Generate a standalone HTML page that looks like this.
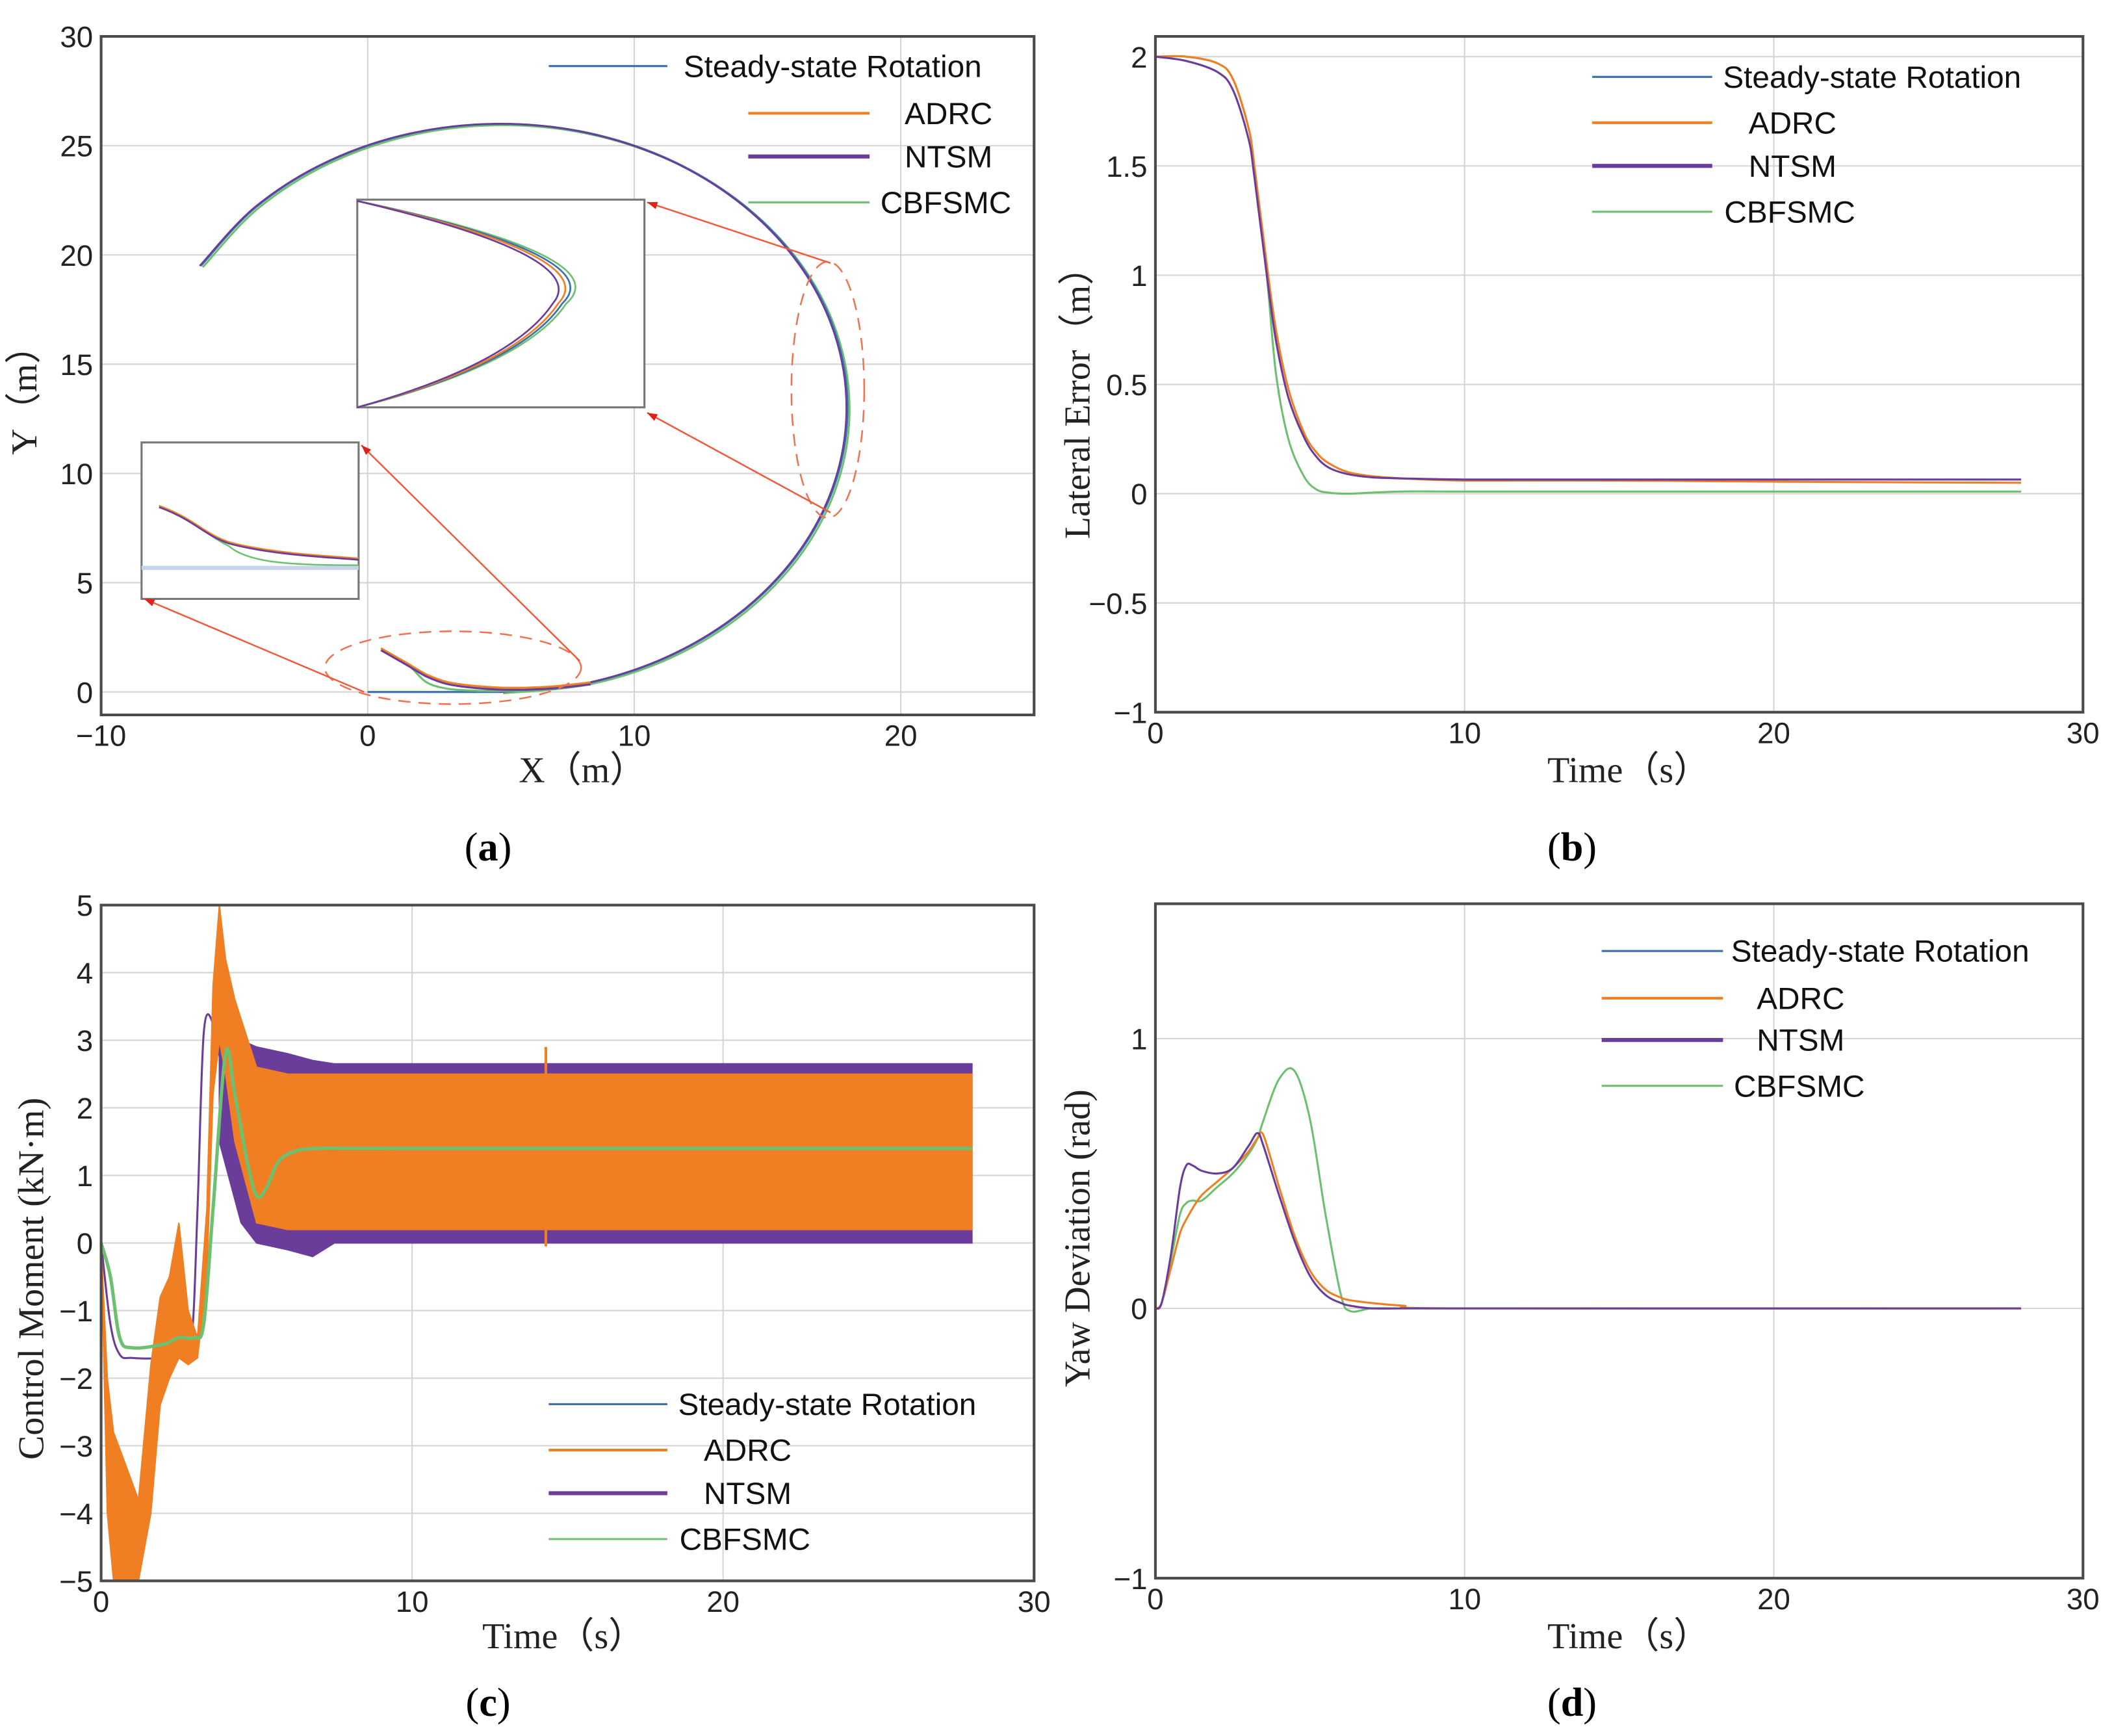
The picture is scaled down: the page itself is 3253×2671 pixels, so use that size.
<!DOCTYPE html>
<html><head><meta charset="utf-8"><style>
html,body{margin:0;padding:0;background:#fff;}
svg{display:block;}
.tk{font-family:"Liberation Sans",sans-serif;font-size:22px;fill:#222;}
.lg{font-family:"Liberation Sans",sans-serif;font-size:23px;fill:#111;}
.at{font-family:"Liberation Serif",serif;font-size:27px;fill:#222;}
.pl{font-family:"Liberation Serif",serif;font-size:30px;fill:#000;}
</style></head><body>
<svg id="fig" width="3253" height="2671" viewBox="0 0 1568 1287" preserveAspectRatio="none" xmlns="http://www.w3.org/2000/svg"></svg>
<script>
// ---- Panel (a) trajectory data (m) ----
const trajX = [-6.26,-4.19,-1.5,1.64,5,8.36,11.5,14.19,16.26,17.56,18,17.56,16.26,14.19,11.5,8.36,5];
const trajY = [19.5,22.19,24.26,25.56,26,25.56,24.26,22.19,19.5,16.36,13,9.64,6.5,3.81,1.74,0.44,0];
const steadyStartX = [0,5];
const steadyStartY = [0,0];
const ctrlStartX = [0.5,1.5,2.2,3,4,5,6,7,8.36];
const adrcStartY = [2,1.3,0.8,0.45,0.28,0.2,0.2,0.26,0.44];
const cbfStartY = [2,1.25,0.45,0.15,0.06,0.05,0.08,0.2,0.44];
const xTicksA = [-10,0,10,20];
const yTicksA = [0,5,10,15,20,25,30];
// ---- Panel (b) lateral error ----
const tB = [0,1,2,2.5,3,3.2,3.6,3.9,4.3,4.8,5.2,5.6,6.2,7,8,10,15,20,28];
const adrcB = [2,2,1.97,1.9,1.68,1.5,1.05,0.75,0.48,0.28,0.19,0.14,0.1,0.08,0.07,0.06,0.06,0.055,0.05];
const ntsmB = [2,1.98,1.93,1.85,1.63,1.45,1.0,0.7,0.44,0.26,0.17,0.12,0.09,0.075,0.07,0.065,0.065,0.065,0.065];
const cbfB = [2,2,1.97,1.9,1.68,1.5,1.0,0.55,0.25,0.08,0.02,0.005,0,0.005,0.01,0.01,0.01,0.01,0.01];
const yTicksB = [-1,-0.5,0,0.5,1,1.5,2];
const yTickLabB = ["−1","−0.5","0","0.5","1","1.5","2"];
const tTicks = [0,10,20,30];
// ---- Panel (c) control moment ----
const tNtsmC = [0,0.3,0.6,1,2,2.5,2.9,3.1,3.3,3.6,3.9];
const ntsmC = [0,-1.2,-1.65,-1.7,-1.7,-1.6,-1.45,0.5,3.1,3.25,2.5];
const tCbfC = [0,0.3,0.6,1,2,2.5,3,3.3,3.6,4,4.3,4.7,5,5.3,5.7,6.2,7,10,28];
const cbfC = [0,-0.5,-1.4,-1.55,-1.5,-1.4,-1.4,-1.2,0.5,2.8,2.2,1.2,0.7,0.8,1.2,1.35,1.4,1.4,1.4];
const tAdrcEarly = [0,0.2,0.4,0.8,1.2,1.6,1.9,2.2,2.5,2.8,3.1,3.4,3.6,3.8,4.0,4.3,5,6,28];
const adrcUpper = [0,-2.0,-2.8,-3.3,-3.8,-1.8,-0.8,-0.5,0.3,-1.0,-1.4,0.5,3.8,5,4.2,3.6,2.6,2.5,2.5];
const adrcLower = [0,-4.0,-5,-5,-5,-4.0,-2.4,-2.0,-1.7,-1.8,-1.7,-0.5,2.2,3.0,2.5,1.5,0.3,0.2,0.2];
const tNtsmBand = [3.8,4.5,5,6,6.8,7.5,10,28];
const ntsmUpper = [3.2,3.0,2.9,2.8,2.7,2.65,2.65,2.65];
const ntsmLower = [1.5,0.3,0,-0.1,-0.2,0,0,0];
const yTicksC = [-5,-4,-3,-2,-1,0,1,2,3,4,5];
// ---- Panel (d) yaw deviation ----
const tD = [0,0.2,0.5,0.8,1,1.2,1.5,2,2.5,3,3.3,3.5,4,4.5,5,5.5,6,6.3,7,8,10,28];
const ntsmD = [0,0.02,0.2,0.45,0.53,0.53,0.51,0.5,0.52,0.6,0.65,0.6,0.42,0.25,0.12,0.05,0.02,0.01,0,0,0,0];
const adrcD = [0,0.02,0.15,0.28,0.33,0.37,0.42,0.47,0.52,0.58,0.63,0.64,0.45,0.27,0.14,0.07,0.04,0.03,0.02,0.01,0,0];
const cbfD = [0,0.02,0.18,0.35,0.39,0.4,0.4,0.45,0.5,0.57,0.63,0.7,0.85,0.88,0.7,0.35,0.05,-0.01,0,0,0,0];
const yTicksD = [-1,0,1];
const yTickLabD = ["−1","0","1"];

const BLUE="#3a6fb0", ORANGE="#ef7f22", PURPLE="#6a3d9a", GREEN="#6cc070";
const NS="http://www.w3.org/2000/svg";
const svg=document.getElementById('fig');
function mk(tag,attrs,parent){const e=document.createElementNS(NS,tag);for(const k in attrs)e.setAttribute(k,attrs[k]);(parent||svg).appendChild(e);return e;}
function txt(s,x,y,cls,anchor,parent){const t=mk('text',{x:x,y:y,class:cls,'text-anchor':anchor||'start'},parent);t.textContent=s;return t;}
function scale(d0,d1,r0,r1){return v=>r0+(v-d0)*(r1-r0)/(d1-d0);}
function pathD(xs,ys,sx,sy){return xs.map((x,i)=>(i?'L':'M')+sx(x).toFixed(1)+' '+sy(ys[i]).toFixed(1)).join(' ');}
function smoothD(xs,ys,sx,sy){
  const p=xs.map((x,i)=>[sx(x),sy(ys[i])]);
  let d='M'+p[0][0].toFixed(1)+' '+p[0][1].toFixed(1);
  for(let i=0;i<p.length-1;i++){
    const p0=p[i-1]||p[i],p1=p[i],p2=p[i+1],p3=p[i+2]||p[i+1];
    const c1=[p1[0]+(p2[0]-p0[0])/6,p1[1]+(p2[1]-p0[1])/6];
    const c2=[p2[0]-(p3[0]-p1[0])/6,p2[1]-(p3[1]-p1[1])/6];
    d+=' C'+c1.map(v=>v.toFixed(1)).join(' ')+' '+c2.map(v=>v.toFixed(1)).join(' ')+' '+p2[0].toFixed(1)+' '+p2[1].toFixed(1);
  }
  return d;
}

function axes(id,L,R,T,B,sx,sy,xt,xl,yt,yl){
  const g=mk('g',{});
  
  
  xt.forEach(v=>{mk('line',{x1:sx(v),x2:sx(v),y1:T,y2:B,stroke:'#d4d4d4','stroke-width':1},g);});
  yt.forEach(v=>{mk('line',{x1:L,x2:R,y1:sy(v),y2:sy(v),stroke:'#d4d4d4','stroke-width':1},g);});
  xt.forEach((v,i)=>{const t=txt(xl[i],sx(v),B+23,'tk','middle',g);});
  yt.forEach((v,i)=>{const t=txt(yl[i],L-6,sy(v)+8,'tk','end',g);});
  return g;
}
function frame(L,R,T,B){const r=mk('rect',{x:L,y:T,width:R-L,height:B-T,fill:'none',stroke:'#4a4a4a','stroke-width':2});}
function line(xs,ys,sx,sy,col,w,name,parent){const p=mk('path',{d:smoothD(xs,ys,sx,sy),fill:'none',stroke:col,'stroke-width':w,'stroke-linejoin':'round'},parent);return p;}
function legend(x1,x2,tx,ys){
  const names=["Steady-state Rotation","ADRC","NTSM","CBFSMC"],cols=[BLUE,ORANGE,PURPLE,GREEN],ws=[1.5,2,3,1.5];
  names.forEach((n,i)=>{
    const g=mk('g',{});
    
    
    mk('line',{x1:x1[i],x2:x2[i],y1:ys[i],y2:ys[i],stroke:cols[i],'stroke-width':ws[i]},g);
    txt(n,tx[i],ys[i]+8,'lg','start',g);
  });
}
function ylabel(s,x,y,name){const t=txt(s,x,y,'at','middle');t.setAttribute('transform','rotate(-90 '+x+' '+y+')');}
function xlabel(s,x,y,name){const t=txt(s,x,y,'at','middle');}
function plabel(s,x,y,name){const t=mk('text',{x:x,y:y,class:'pl','text-anchor':'middle'});t.innerHTML='(<tspan font-weight="bold">'+s+'</tspan>)';}
function clip(id,L,R,T,B){const d=mk('defs',{});const c=mk('clipPath',{id:id},d);mk('rect',{x:L,y:T,width:R-L,height:B-T},c);}

// ===== Panel A =====
(function(){
  const L=75,R=767,T=27,B=530;
  const sx=scale(-10,25,L,R), sy=scale(0,30,513,27);
  axes('panel-a',L,R,T,B,sx,sy,xTicksA,["−10","0","10","20"],yTicksA,yTicksA.map(String));
  clip('ca',L,R,T,B);
  const g=mk('g',{'clip-path':'url(#ca)'});
  line(steadyStartX,steadyStartY,sx,sy,BLUE,1.5,'steady-state-start',g);
  line(trajX,trajY,v=>sx(v)+1.5,v=>sy(v)+1,GREEN,1.5,'cbfsmc-trajectory',g);
  line(trajX,trajY,sx,sy,BLUE,1.5,'steady-state-trajectory',g);
  line(trajX,trajY,v=>sx(v)-0.8,sy,PURPLE,1.3,'ntsm-trajectory',g);
  line(ctrlStartX,cbfStartY,sx,sy,GREEN,1.5,'cbfsmc-start',g);
  line(ctrlStartX,adrcStartY,sx,sy,ORANGE,1.5,'adrc-start',g);
  line(ctrlStartX,adrcStartY,sx,v=>sy(v)+1.5,PURPLE,1.5,'ntsm-start',g);
  mk('ellipse',{cx:336,cy:495,rx:95,ry:27,fill:'none',stroke:'#f07050','stroke-width':1.2,'stroke-dasharray':'9 6'},g);
  mk('ellipse',{cx:614,cy:289,rx:27,ry:95,fill:'none',stroke:'#f07050','stroke-width':1.2,'stroke-dasharray':'9 6'},g);
  const i1=mk('g',{});
  mk('rect',{x:265,y:148,width:213,height:154,fill:'#fff',stroke:'#777','stroke-width':1.5},i1);
  [['#6cc070',10],['#3a6fb0',7],['#ef7f22',4],['#6a3d9a',0]].forEach(c=>{
    mk('path',{d:'M265 149 Q'+(440+c[1]*2)+' 190 '+(410+c[1])+' 225 Q'+(380+c[1])+' 270 265 302',fill:'none',stroke:c[0],'stroke-width':1.3},i1);});
  const i2=mk('g',{});
  mk('rect',{x:105,y:328,width:161,height:116,fill:'#fff',stroke:'#777','stroke-width':1.5},i2);
  mk('line',{x1:105,x2:266,y1:421,y2:421,stroke:'#c5d4ea','stroke-width':3},i2);
  mk('path',{d:'M118 375 C145 385 150 395 170 405 C185 418 220 419 266 419',fill:'none',stroke:GREEN,'stroke-width':1.2},i2);
  mk('path',{d:'M118 375 C145 385 150 395 170 402 C200 410 240 412 266 414',fill:'none',stroke:ORANGE,'stroke-width':1.3},i2);
  mk('path',{d:'M118 376 C145 386 150 396 170 403 C200 411 240 413 266 415',fill:'none',stroke:PURPLE,'stroke-width':1.3},i2);
  [[616,195,480,150],[616,380,480,306],[430,490,268,330],[270,513,107,444]].forEach(a=>{
    const l=mk('line',{x1:a[0],y1:a[1],x2:a[2],y2:a[3],stroke:'#f05a3a','stroke-width':1.2});
    const ang=Math.atan2(a[3]-a[1],a[2]-a[0]);const h=8;
    mk('polygon',{points:[a[2],a[3],a[2]-h*Math.cos(ang-0.35),a[3]-h*Math.sin(ang-0.35),a[2]-h*Math.cos(ang+0.35),a[3]-h*Math.sin(ang+0.35)].join(','),fill:'#e0201a'});
  });
  frame(L,R,T,B);
  legend([407,555,555,555],[495,645,645,645],[507,671,671,653],[49,84,116,150]);
  ylabel('Y（m）',27,290,'y-axis-title-a');
  xlabel('X（m）',432,580,'x-axis-title-a');
  plabel('a',362,638,'panel-label-a');
})();

// ===== Panel B =====
(function(){
  const L=857,R=1545,T=27,B=528;
  const sx=scale(0,30,L,R), sy=scale(-1,2,528,42);
  axes('panel-b',L,R,T,B,sx,sy,tTicks,tTicks.map(String),yTicksB,yTickLabB);
  clip('cb',L,R,T,B);
  const g=mk('g',{'clip-path':'url(#cb)'});
  line(tB,cbfB,sx,sy,GREEN,1.5,'cbfsmc-line',g);
  line(tB,adrcB,sx,sy,ORANGE,1.5,'adrc-line',g);
  line(tB,ntsmB,sx,sy,PURPLE,1.5,'ntsm-line',g);
  frame(L,R,T,B);
  legend([1181,1181,1181,1181],[1270,1270,1270,1270],[1278,1297,1297,1279],[57,91,123,157]);
  ylabel('Lateral Error（m）',808,292,'y-axis-title-b');
  xlabel('Time（s）',1208,580,'x-axis-title-b');
  plabel('b',1166,638,'panel-label-b');
})();

// ===== Panel C =====
(function(){
  const L=75,R=767,T=671,B=1172;
  const sx=scale(0,30,L,R), sy=scale(-5,5,1172,671);
  axes('panel-c',L,R,T,B,sx,sy,tTicks,tTicks.map(String),yTicksC,yTicksC.map(v=>v<0?'−'+(-v):String(v)));
  clip('cc',L,R,T,B);
  const g=mk('g',{'clip-path':'url(#cc)'});
  function band(ts,up,lo,col,name){
    const d=pathD(ts,up,sx,sy)+' '+ts.slice().reverse().map((t,i)=>'L'+sx(t).toFixed(1)+' '+sy(lo[lo.length-1-i]).toFixed(1)).join(' ')+'Z';
    const p=mk('path',{d:d,fill:col,stroke:col,'stroke-width':1},g);
  }
  band(tNtsmBand,ntsmUpper,ntsmLower,PURPLE,'ntsm-oscillation-band');
  line(tNtsmC,ntsmC,sx,sy,PURPLE,1.5,'ntsm-line',g);
  band(tAdrcEarly,adrcUpper,adrcLower,ORANGE,'adrc-oscillation-band');
  mk('line',{x1:sx(14.3),x2:sx(14.3),y1:sy(2.9),y2:sy(-0.05),stroke:ORANGE,'stroke-width':2},g);
  line(tCbfC,cbfC,sx,sy,GREEN,2.5,'cbfsmc-line',g);
  frame(L,R,T,B);
  legend([407,407,407,407],[495,495,495,495],[503,522,522,504],[1041,1075,1107,1141]);
  ylabel('Control Moment (kN·m)',32,948,'y-axis-title-c');
  xlabel('Time（s）',418,1222,'x-axis-title-c');
  plabel('c',362,1272,'panel-label-c');
})();

// ===== Panel D =====
(function(){
  const L=857,R=1545,T=670,B=1170;
  const sx=scale(0,30,L,R), sy=scale(-1,1,1170,770);
  axes('panel-d',L,R,T,B,sx,sy,tTicks,tTicks.map(String),yTicksD,yTickLabD);
  clip('cd',L,R,T,B);
  const g=mk('g',{'clip-path':'url(#cd)'});
  line(tD,cbfD,sx,sy,GREEN,1.5,'cbfsmc-line',g);
  line(tD,adrcD,sx,sy,ORANGE,1.5,'adrc-line',g);
  line(tD,ntsmD,sx,sy,PURPLE,1.5,'ntsm-line',g);
  frame(L,R,T,B);
  legend([1188,1188,1188,1188],[1278,1278,1278,1278],[1284,1303,1303,1286],[705,740,771,805]);
  ylabel('Yaw Deviation (rad)',808,918,'y-axis-title-d');
  xlabel('Time（s）',1208,1222,'x-axis-title-d');
  plabel('d',1166,1272,'panel-label-d');
})();
</script>
</body></html>
